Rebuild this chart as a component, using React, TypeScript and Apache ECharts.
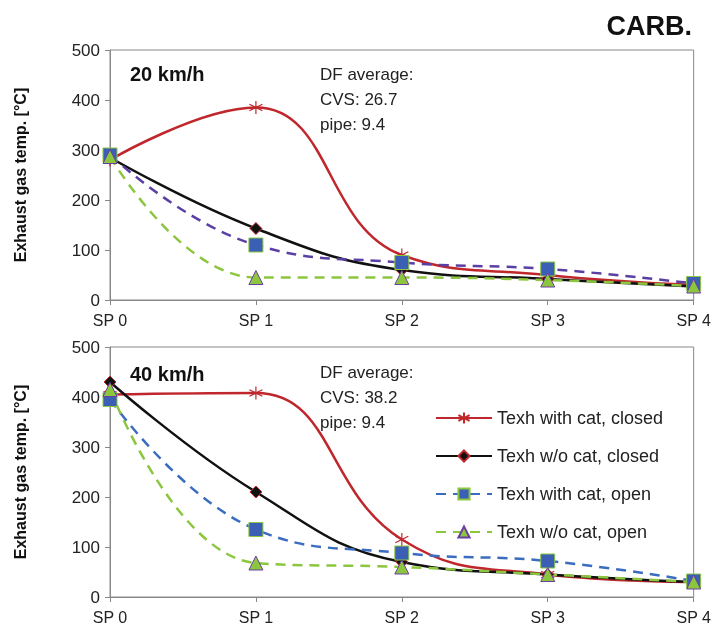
import React, { useEffect, useRef } from "react";
import * as echarts from "echarts";

const categories = ["SP 0", "SP 1", "SP 2", "SP 3", "SP 4"];
const names = ["Texh with cat, closed", "Texh w/o cat, closed", "Texh with cat, open", "Texh w/o cat, open"];
const top20 = {
  withCatClosed: [280, 385, 90, 50, 30],
  woCatClosed: [285, 143, 60, 42, 27],
  withCatOpen: [290, 110, 75, 62, 33],
  woCatOpen: [287, 45, 45, 40, 28],
};
const bot40 = {
  withCatClosed: [405, 408, 115, 45, 30],
  woCatClosed: [430, 210, 70, 45, 30],
  withCatOpen: [395, 135, 88, 72, 32],
  woCatOpen: [415, 68, 60, 45, 30],
};

const ASTER = "path://M0,-10L0,10M-8.7,-5L8.7,5M-8.7,5L8.7,-5";
const FONT = "'Liberation Sans', Arial, sans-serif";

function mk(d: any, gi: number, topColor?: string) {
  const blue = topColor || "#3a6cc0";
  return [
    { name: names[0], data: d.withCatClosed, color: "#c0272d", dash: "solid", sym: ASTER, size: 13,
      item: { color: "none", borderColor: "#c0272d", borderWidth: 1.2 } },
    { name: names[1], data: d.woCatClosed, color: "#111", dash: "solid", sym: "diamond", size: 12,
      item: { color: "#111", borderColor: "#c0272d", borderWidth: 1 } },
    { name: names[2], data: d.withCatOpen, color: blue, dash: [10, 7], sym: "rect", size: 14,
      item: { color: "#3a5fb5", borderColor: "#8cc63f", borderWidth: 1 } },
    { name: names[3], data: d.woCatOpen, color: "#8cc63f", dash: [10, 7], sym: "triangle", size: 14,
      item: { color: "#8cc63f", borderColor: "#6a3fa0", borderWidth: 1 } },
  ].map((s) => ({
    type: "line", name: s.name, data: s.data, xAxisIndex: gi, yAxisIndex: gi, smooth: 0.45,
    symbol: s.sym, symbolSize: s.size, showSymbol: true,
    lineStyle: { color: s.color, width: 2.5, type: s.dash },
    itemStyle: s.item, color: s.color,
  }));
}

export default function App() {
  const ref = useRef<HTMLDivElement>(null);
  useEffect(() => {
    const chart = echarts.init(ref.current!, null, { renderer: "svg" });
    const grids = [
      { left: 110, top: 50, width: 587, height: 250 },
      { left: 110, top: 347, width: 587, height: 250 },
    ].map((g) => ({ ...g, show: true, borderColor: "#888", borderWidth: 1, backgroundColor: "transparent" }));
    const xAxis = [0, 1].map((i) => ({
      type: "category", data: categories, gridIndex: i, boundaryGap: false,
      axisLine: { lineStyle: { color: "#888" } },
      axisTick: { alignWithLabel: true, length: 5, lineStyle: { color: "#888" } },
      axisLabel: { color: "#222", fontSize: 16, fontFamily: FONT, margin: 12, showMaxLabel: true, showMinLabel: true },
    }));
    const yAxis = [0, 1].map((i) => ({
      type: "value", gridIndex: i, min: 0, max: 500, interval: 100,
      name: "Exhaust gas temp. [°C]", nameLocation: "middle", nameGap: 82,
      nameTextStyle: { fontSize: 16, fontWeight: "bold", color: "#111", fontFamily: FONT },
      axisLine: { show: true, lineStyle: { color: "#888" } },
      axisTick: { show: true, length: 5, lineStyle: { color: "#888" } },
      splitLine: { show: false },
      axisLabel: { color: "#222", fontSize: 17, fontFamily: FONT, margin: 10 },
    }));
    const series = [...mk(bot40, 1), ...mk(top20, 0, "#5a3fa5")];
    const textStyle = { fontSize: 17, fill: "#222", fontFamily: FONT, lineHeight: 25 };
    chart.setOption({
      animation: false,
      grid: grids, xAxis, yAxis, series,
      legend: {
        data: names, orient: "vertical", left: 430, top: 404, itemGap: 20,
        itemWidth: 56, itemHeight: 14,
        textStyle: { fontSize: 18, color: "#222", fontFamily: FONT },
      },
      graphic: [
        { type: "text", right: 22, top: 12, style: { text: "CARB.", fontSize: 27, fontWeight: "bold", fill: "#111", fontFamily: FONT } },
        { type: "text", left: 130, top: 64, style: { text: "20 km/h", fontSize: 20, fontWeight: "bold", fill: "#111", fontFamily: FONT } },
        { type: "text", left: 320, top: 62, style: { text: "DF average:\nCVS: 26.7\npipe: 9.4", ...textStyle } },
        { type: "text", left: 130, top: 364, style: { text: "40 km/h", fontSize: 20, fontWeight: "bold", fill: "#111", fontFamily: FONT } },
        { type: "text", left: 320, top: 360, style: { text: "DF average:\nCVS: 38.2\npipe: 9.4", ...textStyle } },
      ],
    });
    return () => chart.dispose();
  }, []);
  return <div ref={ref} style={{ position: "fixed", left: 0, top: 0, width: 714, height: 635 }} />;
}
